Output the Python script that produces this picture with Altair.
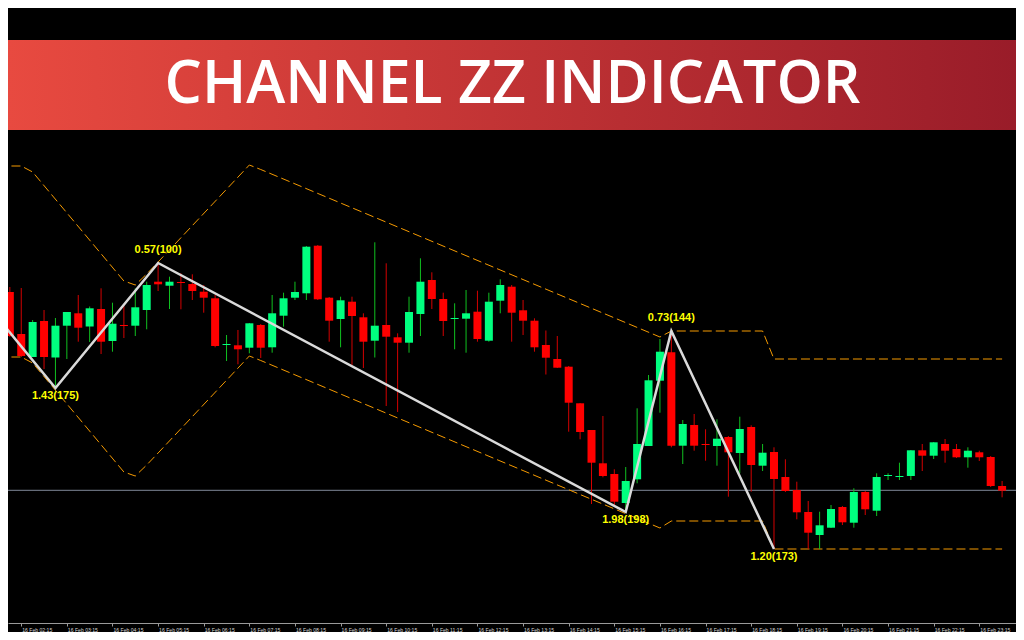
import altair as alt
import pandas as pd

# ---- candle data (15-minute bars, 16 Feb 02:00 ... 23:45), price in points ----
IDX = list(range(88))
OPEN = [331, 289, 266, 302, 265.5, 297.3, 309.7, 296.5, 314, 282,
        298, 297.3, 313, 341.3, 337.3, 341, 339, 331.3, 324.7, 278,
        277.7, 275.3, 298, 275.7, 307.3, 325.3, 329.7, 377.3, 325.3, 304,
        321.3, 305.7, 282.3, 298, 285.7, 280.3, 309, 343, 324, 304,
        304.3, 311.3, 282.3, 322.3, 336.3, 312.7, 302.3, 278, 264, 256.3,
        219.7, 193, 159.7, 149, 120, 143.7, 177, 242.3, 270.7, 177.3,
        198, 179, 177, 186, 170, 196, 157.3, 171, 146, 133,
        111, 88, 95.3, 116, 100.3, 131, 112.3, 147, 146, 147,
        172.7, 167.3, 179, 174, 165.7, 170.7, 166, 137]
HIGH = [336, 335, 303, 313, 305, 311, 328, 316.5, 334.7, 320.3,
        317.5, 334.7, 341.3, 360, 346.3, 349.7, 348.7, 338, 328, 288,
        293, 300, 299, 328, 330.3, 341.3, 377, 378, 326, 326.3,
        326.3, 309.7, 380.7, 359.7, 289.7, 326.3, 364.7, 350.7, 330.3, 319.7,
        333, 332.3, 330.3, 343.7, 338, 323, 304.7, 292.5, 287, 257,
        220, 193, 207, 153.7, 156, 214.7, 248, 284, 292, 203,
        209, 193.7, 203.7, 187, 206.3, 197.7, 179, 175.7, 163.7, 141.3,
        122, 111.3, 118, 117, 134.7, 132, 149.7, 149.7, 160.3, 173,
        179, 181, 184, 179, 175.7, 172.3, 167, 142]
LOW = [286, 266, 266, 254, 235, 264, 281.3, 281, 269, 271.3,
       285, 287, 293.7, 332, 314, 313.7, 323, 310.3, 275.7, 262,
       258.7, 269.7, 265, 270.3, 296.3, 323, 323, 323, 281.3, 275.7,
       258, 255, 265.5, 217, 211, 270.3, 287, 314, 287, 273.7,
       270.3, 281.3, 281.3, 309.7, 281.3, 288, 271.3, 248.5, 255, 191.3,
       183.7, 119, 145.7, 117, 111, 139.7, 177, 210.3, 175.7, 159,
       172.3, 162.3, 157.3, 126.3, 149.7, 131.3, 152, 74, 131, 103.7,
       74, 74, 95, 98, 95.3, 108, 107, 143, 143, 143,
       152, 164, 160.3, 165, 155.3, 162, 136, 125.7]
CLOSE = [287, 267, 301, 266, 297.3, 311, 295.3, 314.7, 281.3, 299.3,
         297, 315.7, 338, 338.7, 341.3, 340, 332, 325.3, 277, 279,
         273.7, 299.7, 275.3, 309.7, 324.7, 331, 376.3, 323.7, 302.3, 322.7,
         307, 281.3, 297.3, 286.3, 280.3, 311, 341.3, 324, 302, 305,
         309.7, 284, 321.3, 338, 310.3, 302.3, 275.7, 265.3, 255.3, 220.3,
         191, 160.3, 147, 121.3, 142, 179, 242.7, 271.3, 177.3, 199,
         177.3, 178, 184.3, 170.7, 194, 158, 170.3, 144, 132, 110.7,
         90.3, 97.7, 114, 100.7, 131, 113.7, 146, 148, 147, 172.7,
         167.3, 180.7, 172.3, 165.7, 172.3, 165.7, 137, 132.3]

# ---- time axis ----
TICK_IDX = [1, 5, 9, 13, 17, 21, 25, 29, 33, 37, 41, 45, 49, 53, 57, 61, 65, 69, 73, 77, 81, 85]
TICK_LABELS = ["16 Feb 02:15", "16 Feb 03:15", "16 Feb 04:15", "16 Feb 05:15", "16 Feb 06:15",
               "16 Feb 07:15", "16 Feb 08:15", "16 Feb 09:15", "16 Feb 10:15", "16 Feb 11:15",
               "16 Feb 12:15", "16 Feb 13:15", "16 Feb 14:15", "16 Feb 15:15", "16 Feb 16:15",
               "16 Feb 17:15", "16 Feb 18:15", "16 Feb 19:15", "16 Feb 20:15", "16 Feb 21:15",
               "16 Feb 22:15", "16 Feb 23:15"]

# ---- zigzag ----
ZZ_IDX = [-12, 4, 13, 54, 58, 67]
ZZ_PRICE = [457, 235, 360, 111, 292, 74]

PIVOT_IDX = [4, 13, 54, 58, 67]
PIVOT_PRICE = [235, 360, 111, 292, 74]
PIVOT_TEXT = ["1.43(175)", "0.57(100)", "1.98(198)", "0.73(144)", "1.20(173)"]
PIVOT_KIND = ["low", "high", "low", "high", "low"]

# ---- channel lines ----
CH_IDX = [-1, 0, 1, 2, 10, 11, 12, 13, 21, 22, 57, 58, 66, 67, 87]
CH_UPPER = [457, 457, 457, 451, 342, 338, 349, 361, 458, 453.5, 286, 292, 292, 264, 264]
CH_LOWER = [266, 266, 266, 260, 151, 147, 158, 170, 267, 262.5, 95, 102, 102, 74, 74]

BID = [132.7]
TITLE = "CHANNEL ZZ INDICATOR"

# ---------------------------------------------------------------
W, H = 1008, 615
xs = alt.Scale(domain=[0.278, 87.78], nice=False, zero=False)
ys = alt.Scale(domain=[0, 615], nice=False, zero=False)

candles = pd.DataFrame({"i": IDX, "open": OPEN, "high": HIGH, "low": LOW, "close": CLOSE})
zz = pd.DataFrame({"i": ZZ_IDX, "price": ZZ_PRICE})
piv = pd.DataFrame({"i": PIVOT_IDX, "price": PIVOT_PRICE, "txt": PIVOT_TEXT, "kind": PIVOT_KIND})
chan = pd.DataFrame({"i": CH_IDX + CH_IDX,
                     "price": CH_UPPER + CH_LOWER,
                     "side": ["upper"] * len(CH_IDX) + ["lower"] * len(CH_IDX)})
bid = pd.DataFrame({"price": BID})
title_df = pd.DataFrame({"t": [TITLE]})

label_expr = "{}[indexof({}, datum.value)]".format(
    "[" + ",".join("'%s'" % s for s in TICK_LABELS) + "]",
    "[" + ",".join(str(v) for v in TICK_IDX) + "]")

x_axis = alt.Axis(values=TICK_IDX, labelExpr=label_expr, title=None, grid=False,
                  domainColor="#9a9a9a", tickColor="#9a9a9a", tickSize=3, domainWidth=1,
                  labelColor="#d6d6d6", labelFontSize=5.1,
                  labelFont="Liberation Sans, Arial",
                  labelAlign="left", labelBaseline="top", labelPadding=1.5, labelOffset=0.5,
                  labelOverlap=False, labelFlush=False)

X = alt.X("i:Q", scale=xs, axis=x_axis)
bull = alt.datum.close >= alt.datum.open

bid_rule = alt.Chart(bid).mark_rule(color="#7f8898", strokeWidth=1).encode(
    y=alt.Y("price:Q", scale=ys, axis=None))

channel = alt.Chart(chan).mark_line(color="#F59A00", strokeWidth=1, strokeDash=[9, 4],
                                   clip=True).encode(
    x=X, y=alt.Y("price:Q", scale=ys, axis=None), detail="side:N")

wicks = alt.Chart(candles).mark_rule(strokeWidth=1).encode(
    x=X, y=alt.Y("low:Q", scale=ys, axis=None), y2="high:Q",
    color=alt.when(bull).then(alt.value("#10C020")).otherwise(alt.value("#D40000")))

bodies = alt.Chart(candles).mark_bar(size=8, clip=True).encode(
    x=X, y=alt.Y("open:Q", scale=ys, axis=None), y2="close:Q",
    color=alt.when(bull).then(alt.value("#00FF7F")).otherwise(alt.value("#FF0000")))

zigzag = alt.Chart(zz).mark_line(color="#DADADA", strokeWidth=2.5, clip=True).encode(
    x=X, y=alt.Y("price:Q", scale=ys, axis=None))

lbl_style = dict(font="Liberation Sans, Arial", fontSize=11, fontWeight="bold",
                 color="#FFFF00", align="center", baseline="alphabetic")
lbl_high = alt.Chart(piv).transform_filter(alt.datum.kind == "high").mark_text(
    dy=-10, **lbl_style).encode(
    x=X, y=alt.Y("price:Q", scale=ys, axis=None), text="txt:N")
lbl_low = alt.Chart(piv).transform_filter(alt.datum.kind == "low").mark_text(
    dy=11, **lbl_style).encode(
    x=X, y=alt.Y("price:Q", scale=ys, axis=None), text="txt:N")

banner = alt.Chart(title_df).mark_rect(
    fill=alt.LinearGradient(gradient="linear",
                            stops=[alt.GradientStop(color="#E84A40", offset=0),
                                   alt.GradientStop(color="#991C29", offset=1)],
                            x1=0, x2=1, y1=0, y2=0)).encode(
    x=alt.value(0), x2=alt.value(W), y=alt.value(32), y2=alt.value(122))

title = alt.Chart(title_df).mark_text(font="Open Sans", fontSize=59, fontWeight=600,
                                      color="#FFFFFF", align="center",
                                      baseline="alphabetic").encode(
    x=alt.value(504.5), y=alt.value(95), text="t:N")

chart = alt.layer(bid_rule, channel, wicks, bodies, zigzag, lbl_high, lbl_low, banner, title).properties(
    width=W, height=H,
    autosize=alt.AutoSizeParams(type="none"),
    padding={"left": 0, "right": 0, "top": 0, "bottom": 9},
    background="#000000",
).configure_view(strokeWidth=0)

chart.save("out.html", embed_options={"renderer": "svg", "actions": False})
